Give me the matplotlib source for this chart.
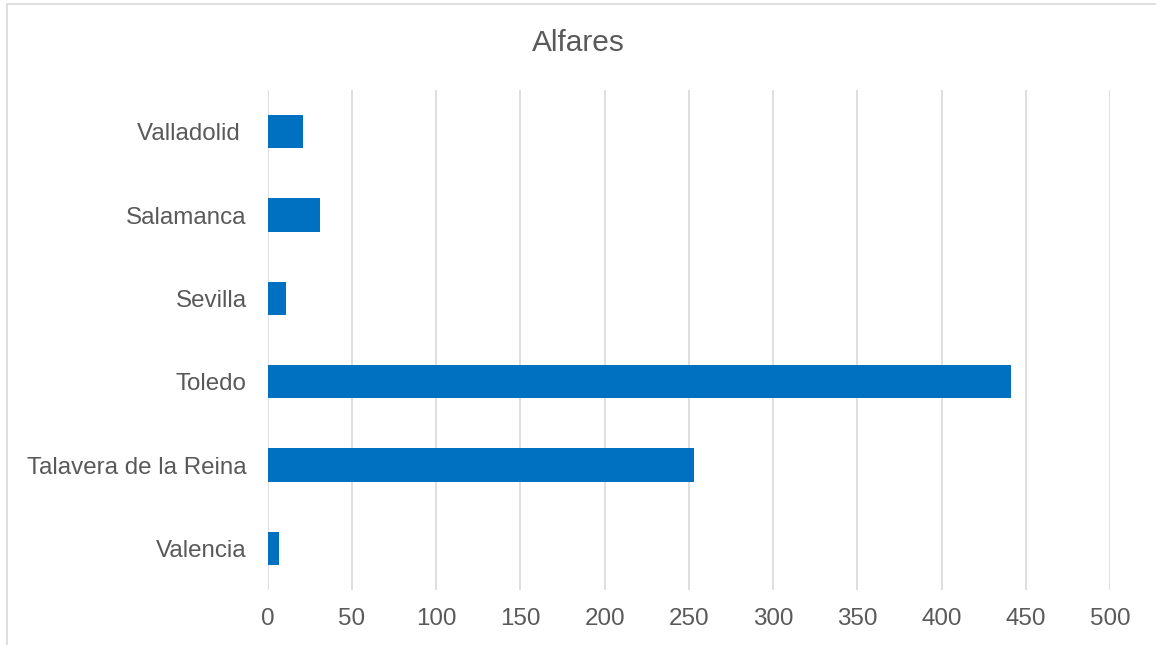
import matplotlib
matplotlib.use("Agg")
import matplotlib.pyplot as plt
from matplotlib.patches import Rectangle

plt.rcParams['font.family'] = ['Liberation Sans', 'DejaVu Sans']

# Data
cities = ["Valencia", "Talavera de la Reina", "Toledo", "Sevilla", "Salamanca", "Valladolid "]
alfares = [7, 253, 441, 11, 31, 21]
x_ticks = [0, 50, 100, 150, 200, 250, 300, 350, 400, 450, 500]

W, H = 1156, 645
fig = plt.figure(figsize=(W / 100, H / 100), dpi=100)

# Chart border
fig.patches.append(Rectangle((7 / W, -0.1), 1.2, (H - 4) / H + 0.1,
                             transform=fig.transFigure, fill=False,
                             edgecolor="#D9D9D9", linewidth=1.2))

ax = fig.add_axes([267.5 / W, (H - 590) / H, (1110 - 267.5) / W, 500 / H])

text_color = "#595959"
ax.barh(range(len(cities)), alfares, height=0.4, color="#0070C0", zorder=3)

ax.set_xlim(0, 500)
ax.set_ylim(-0.5, len(cities) - 0.5)
ax.set_xticks(x_ticks)
ax.set_xticklabels([str(t) for t in x_ticks], fontsize=17.4, color=text_color)
ax.set_yticks(range(len(cities)))
ax.set_yticklabels(cities, fontsize=17.4, color=text_color)
ax.tick_params(axis="both", length=0)
ax.tick_params(axis="y", pad=15)
ax.tick_params(axis="x", pad=13)

ax.grid(axis="x", color="#D9D9D9", linewidth=1.2, zorder=0)
for s in ax.spines.values():
    s.set_visible(False)

fig.text(578 / W, 1 - 43 / H, "Alfares", ha="center", va="center",
         fontsize=21.5, color=text_color)

fig.savefig("out.png", dpi=100)
